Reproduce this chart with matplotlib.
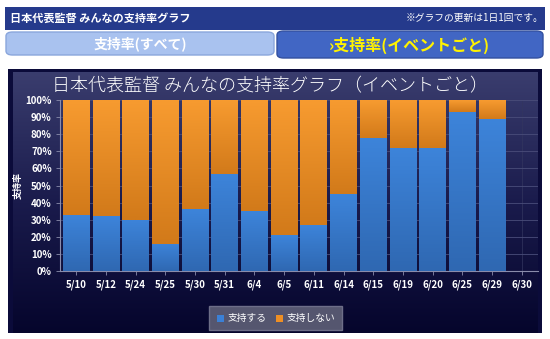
import numpy as np
import matplotlib
matplotlib.use("Agg")
import matplotlib.pyplot as plt
from matplotlib.patches import FancyBboxPatch, Rectangle
from matplotlib.colors import LinearSegmentedColormap

plt.rcParams['font.family'] = ['Noto Sans CJK JP', 'DejaVu Sans']

dates = ['5/10', '5/12', '5/24', '5/25', '5/30', '5/31', '6/4', '6/5',
         '6/11', '6/14', '6/15', '6/19', '6/20', '6/25', '6/29', '6/30']
support = [33, 32, 30, 16, 36, 57, 35, 21, 27, 45, 78, 72, 72, 93, 89]
no_support = [100 - v for v in support]
yticks = list(range(0, 101, 10))

W, H = 550, 339
fig = plt.figure(figsize=(5.5, 3.39), dpi=100)
fig.patch.set_facecolor('white')


def fx(x):
    return x / W


def fy(y):
    return 1 - y / H


# page header
fig.patches.append(Rectangle((fx(5), fy(30)), fx(540), 23 / H, transform=fig.transFigure,
                             facecolor='#253a8c', edgecolor='none'))
fig.text(fx(10), fy(18), '日本代表監督 みんなの支持率グラフ', color='white', fontsize=8,
         fontweight='bold', va='center')
fig.text(fx(543), fy(18), '※グラフの更新は1日1回です。', color='white', fontsize=7, ha='right', va='center')

# tabs
fig.patches.append(FancyBboxPatch((fx(6), fy(55)), fx(268), 23 / H, transform=fig.transFigure,
                                  boxstyle='round,pad=0,rounding_size=0.012',
                                  facecolor='#a9c2ef', edgecolor='#8aa6dc'))
fig.text(fx(140), fy(44), '支持率(すべて)', color='white', fontsize=10, fontweight='bold',
         ha='center', va='center')
fig.patches.append(FancyBboxPatch((fx(277), fy(58)), fx(266), 27 / H, transform=fig.transFigure,
                                  boxstyle='round,pad=0,rounding_size=0.012',
                                  facecolor='#4166c4', edgecolor='#33509f'))
fig.text(fx(410), fy(45), '›支持率(イベントごと)', color='#fff200', fontsize=11.5, fontweight='bold',
         ha='center', va='center')

# chart panel with gradient
panel = fig.add_axes([fx(8), fy(333), fx(534), 264 / H])
panel.set_axis_off()
panel.set_xlim(0, 1)
panel.set_ylim(0, 1)
panel.add_patch(Rectangle((0, 0), 1, 1, facecolor='#0b0b3a', edgecolor='none'))
grad = np.linspace(0, 1, 256).reshape(-1, 1)
bg_cmap = LinearSegmentedColormap.from_list('bg', ['#3a3d6e', '#1a1b4c', '#05052c'])
panel.imshow(grad, aspect='auto', cmap=bg_cmap, extent=[0.009, 0.991, 0.0, 0.985], zorder=1)

# plot area
ax = fig.add_axes([fx(60), fy(271), fx(478), 171 / H])
ax.set_facecolor('none')
x = np.arange(len(dates))
n = len(support)
blue_bars = ax.bar(x[:n], support, width=0.9, color='#3b80d6', edgecolor='none', zorder=3)
orange_bars = ax.bar(x[:n], no_support, bottom=support, width=0.9, color='#ee8f24',
                     edgecolor='none', zorder=3)

blue_cmap = LinearSegmentedColormap.from_list('b', ['#2f68b2', '#3d84da'])
orange_cmap = LinearSegmentedColormap.from_list('o', ['#d27a1a', '#f79b30'])
g = np.linspace(0, 1, 64).reshape(-1, 1)
for bars, cm in [(blue_bars, blue_cmap), (orange_bars, orange_cmap)]:
    for b in bars:
        x0, y0 = b.get_x(), b.get_y()
        im = ax.imshow(g, aspect='auto', cmap=cm, origin='lower',
                       extent=[x0, x0 + b.get_width(), y0, y0 + b.get_height()], zorder=4)
        im.set_clip_path(b)

ax.set_xlim(-0.55, len(dates) - 0.45)
ax.set_ylim(0, 100)
ax.set_yticks(yticks)
ax.set_yticklabels([f'{t}%' for t in yticks])
ax.set_xticks(x)
ax.set_xticklabels(dates)
ax.grid(axis='y', color='#4a4d7a', linewidth=0.6, zorder=0)
ax.grid(axis='x', color='#33365f', linewidth=0.5, zorder=0)
for s in ['top', 'right']:
    ax.spines[s].set_visible(False)
for s in ['left', 'bottom']:
    ax.spines[s].set_color('#8a8cab')
ax.tick_params(colors='#8a8cab', length=3, width=0.6, pad=3)
for lab in ax.get_xticklabels() + ax.get_yticklabels():
    lab.set_color('white')
    lab.set_fontsize(7)
    lab.set_fontweight('bold')
ax.set_ylabel('支持率', color='white', fontsize=6.5, fontweight='bold')
ax.yaxis.set_label_coords(-0.078, 0.5)

fig.text(fx(270), fy(86), '日本代表監督 みんなの支持率グラフ（イベントごと）', color='white',
         fontsize=13, fontweight='light', ha='center', va='center')

# legend
fig.patches.append(Rectangle((fx(209), fy(330)), fx(133), 24 / H, transform=fig.transFigure,
                             facecolor='#55566f', edgecolor='#6d6e88'))
fig.patches.append(Rectangle((fx(217), fy(322)), fx(7), 7 / H, transform=fig.transFigure,
                             facecolor='#3b80d6'))
fig.text(fx(228), fy(318), '支持する', color='white', fontsize=7, va='center')
fig.patches.append(Rectangle((fx(276), fy(322)), fx(7), 7 / H, transform=fig.transFigure,
                             facecolor='#ee8f24'))
fig.text(fx(287), fy(318), '支持しない', color='white', fontsize=7, va='center')

fig.savefig('out.png', dpi=100)
